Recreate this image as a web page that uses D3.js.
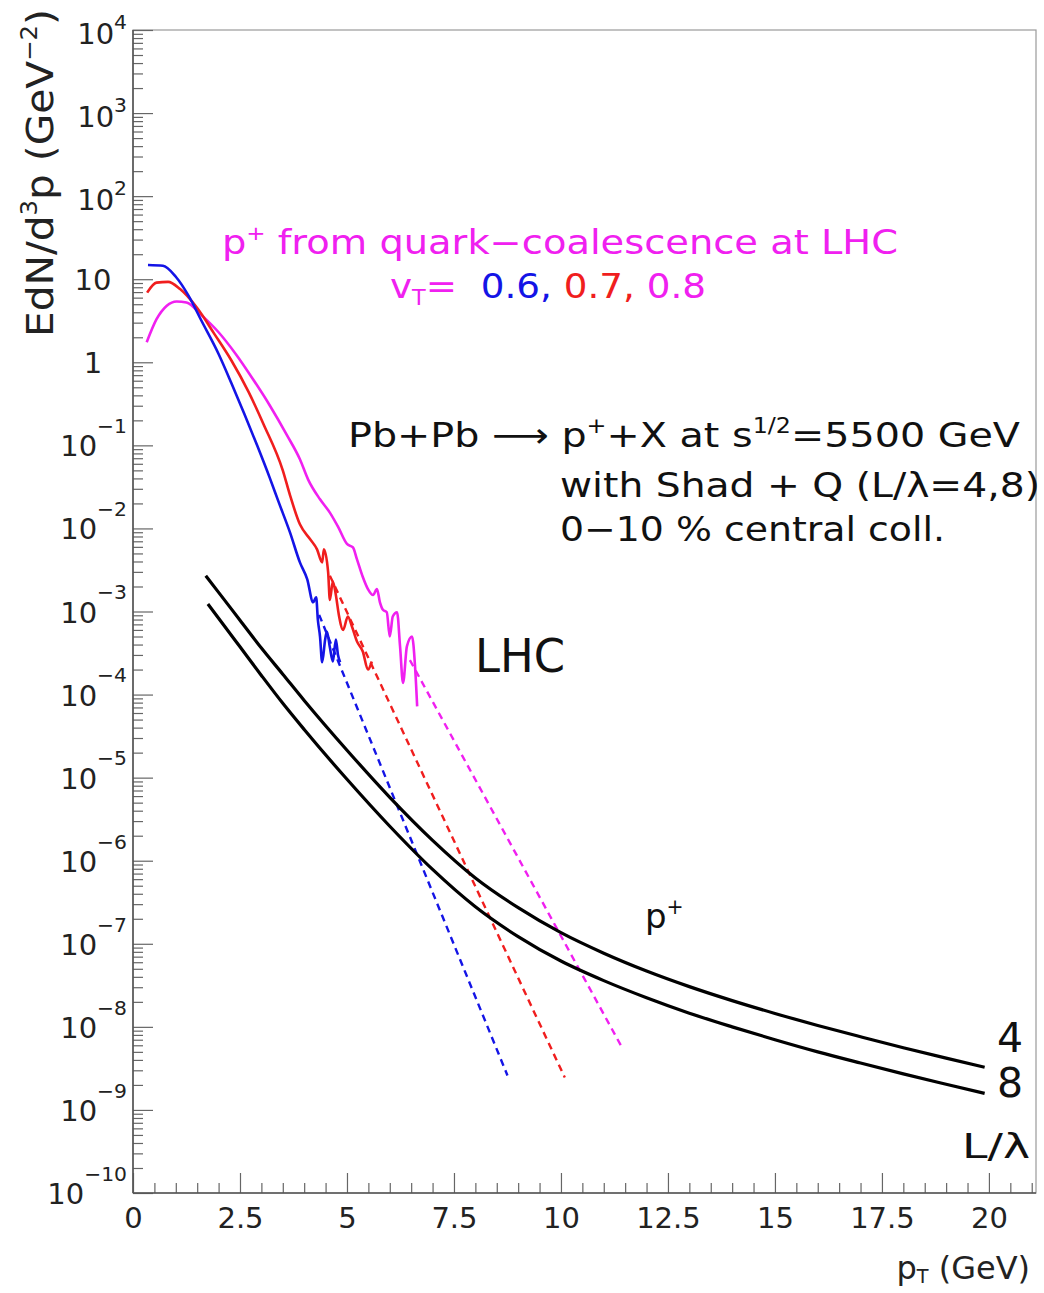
<!DOCTYPE html>
<html>
<head>
<meta charset="utf-8">
<script src="https://cdn.jsdelivr.net/npm/d3@7"></script>
<style>
  body { margin: 0; background: #fff; }
  text { font-family: "DejaVu Sans", sans-serif; white-space: pre; }
</style>
</head>
<body>
<svg id="chart" width="1044" height="1293"></svg>
<script>
// ---- data (pT in GeV, EdN/d3p in GeV^-2) ----
const xMajorTicks = [0, 2.5, 5, 7.5, 10, 12.5, 15, 17.5, 20];
const yExponents = [-10, -9, -8, -7, -6, -5, -4, -3, -2, -1, 0, 1, 2, 3, 4];

// quark coalescence, vT = 0.6 (blue)
const v06Pt  = [0.35,0.7,1.0,1.3,1.6,2.0,2.3,2.6,2.9,3.2,3.4,3.67,3.9,4.07,4.21,4.28,4.32,4.37,4.42,4.49,4.53,4.6,4.67,4.74,4.79,4.84];
const v06Val = [14.8,14.5,10.7,6.3,3.16,1.26,0.56,0.24,0.1,0.04,0.021,8.9e-3,3.9e-3,2.45e-3,1.29e-3,1.48e-3,7.9e-4,5.0e-4,2.45e-4,4.6e-4,5.75e-4,3.7e-4,2.5e-4,4.6e-4,3.0e-4,2.45e-4];
// vT = 0.7 (red)
const v07Pt  = [0.33,0.55,0.82,1.1,1.5,1.9,2.3,2.7,3.05,3.5,3.67,3.9,4.14,4.3,4.42,4.46,4.56,4.6,4.67,4.74,4.81,4.91,5.02,5.12,5.23,5.37,5.49,5.58];
const v07Val = [6.9,9.1,9.3,7.6,4.5,2.2,1.05,0.44,0.18,0.05,0.025,0.0112,7.4e-3,5.6e-3,3.9e-3,5.6e-3,2.95e-3,1.38e-3,2.3e-3,1.58e-3,9.1e-4,6.0e-4,8.7e-4,6.5e-4,4.4e-4,3.3e-4,2.0e-4,2.5e-4];
// vT = 0.8 (magenta)
const v08Pt  = [0.32,0.55,0.79,1.02,1.25,1.6,2.0,2.4,2.8,3.2,3.6,3.9,4.09,4.37,4.6,4.79,5.0,5.14,5.23,5.37,5.49,5.61,5.7,5.77,5.84,5.93,6.0,6.07,6.17,6.24,6.31,6.4,6.52,6.59,6.64];
const v08Val = [1.74,3.3,4.8,5.4,5.25,3.7,2.3,1.26,0.63,0.30,0.132,0.068,0.039,0.0224,0.0155,0.0105,6.5e-3,5.9e-3,4.3e-3,2.6e-3,1.86e-3,1.58e-3,1.86e-3,1.29e-3,1.05e-3,9.8e-4,5.0e-4,8.7e-4,9.8e-4,3.8e-4,1.38e-4,3.8e-4,5.0e-4,2.2e-4,7.2e-5];

// exponential extrapolations (dashed)
const fit06Pt = [4.35, 8.75],  fit06Val = [9.1e-4, 2.6e-9];
const fit07Pt = [4.6, 10.09],  fit07Val = [2.7e-3, 2.45e-9];
const fit08Pt = [6.47, 11.43], fit08Val = [2.6e-4, 5.6e-9];

// fragmentation with Shad + Q, L/lambda = 4 and 8 (black)
const q4Pt  = [1.7,2,2.5,3,3.5,4,5,6,7,8,9,10,11,12,13,14,15,16,17,18,19,19.9];
const q4Val = [2.69e-3,1.7e-3,7.85e-4,3.63e-4,1.76e-4,8.5e-5,2.14e-5,5.8e-6,1.76e-6,6.2e-7,2.72e-7,1.36e-7,7.7e-8,4.7e-8,3.05e-8,2.07e-8,1.45e-8,1.04e-8,7.6e-9,5.6e-9,4.2e-9,3.27e-9];
const q8Pt  = [1.75,2,2.5,3,3.5,4,5,6,7,8,9,10,11,12,13,14,15,16,17,18,19,19.9];
const q8Val = [1.23e-3,8.3e-4,3.76e-4,1.7e-4,7.85e-5,3.8e-5,9.55e-6,2.6e-6,7.85e-7,2.79e-7,1.22e-7,6.2e-8,3.6e-8,2.24e-8,1.46e-8,1.0e-8,7.0e-9,5.0e-9,3.67e-9,2.72e-9,2.04e-9,1.58e-9];

const BLUE = "#1414e6", RED = "#f01e1e", MAG = "#f020f0";

// ---- layout ----
const mLeft = 133, mRight = 1036, mTop = 30, mBottom = 1193;
const svg = d3.select("#chart");

const x = d3.scaleLinear().domain([0, 21.1]).range([mLeft, mRight]);
const y = d3.scaleLog().domain([1e-10, 1e4]).range([mBottom, mTop]);

// frame
svg.append("rect")
    .attr("x", mLeft).attr("y", mTop)
    .attr("width", mRight - mLeft).attr("height", mBottom - mTop)
    .style("fill", "none").style("stroke", "#9a9a9a").style("stroke-width", 1.2);

// y ticks (inside)
const yMinor = [];
yExponents.slice(0, -1).forEach(function (e) {
    for (let k = 2; k <= 9; k++) yMinor.push(k * Math.pow(10, e));
});
const yMajorVals = yExponents.map(function (e) { return Math.pow(10, e); });

function styleAxis(g) {
    g.select(".domain").remove();
    g.selectAll(".tick line").style("stroke", "#666").style("stroke-width", 1.2);
}

svg.append("g").attr("transform", "translate(" + mLeft + ",0)")
    .call(d3.axisLeft(y).tickValues(yMinor).tickSize(-10).tickFormat(""))
    .call(styleAxis);
svg.append("g").attr("transform", "translate(" + mLeft + ",0)")
    .call(d3.axisLeft(y).tickValues(yMajorVals).tickSize(-20).tickFormat(""))
    .call(styleAxis);

// x ticks (inside)
const xMinor = d3.range(0, 21.01, 0.5).filter(function (v) { return Math.abs(v / 2.5 - Math.round(v / 2.5)) > 1e-6; });
svg.append("g").attr("transform", "translate(0," + mBottom + ")")
    .call(d3.axisBottom(x).tickValues(xMinor).tickSize(-10).tickFormat(""))
    .call(styleAxis);
const xAx = svg.append("g").attr("transform", "translate(0," + mBottom + ")")
    .call(d3.axisBottom(x).tickValues(xMajorTicks).tickSize(-20).tickFormat(function (d) { return String(d); }))
    .call(styleAxis);
xAx.selectAll(".tick text")
    .attr("y", 35).attr("dy", 0)
    .style("font-family", "DejaVu Sans").style("font-size", "29px").style("fill", "#222");

// axis lines
svg.append("line").attr("x1", mLeft).attr("x2", mLeft).attr("y1", mTop).attr("y2", mBottom)
    .style("stroke", "#555").style("stroke-width", 1.6);
svg.append("line").attr("x1", mLeft).attr("x2", mRight).attr("y1", mBottom).attr("y2", mBottom)
    .style("stroke", "#555").style("stroke-width", 1.6);

// rich text helper with super/subscripts
function rich(px, py, parts, o) {
    const t = svg.append("text")
        .attr("x", px).attr("y", py)
        .attr("font-size", o.size)
        .attr("fill", o.fill || "#111")
        .attr("text-anchor", o.anchor || "start");
    if (o.len) t.attr("textLength", o.len).attr("lengthAdjust", "spacingAndGlyphs");
    if (o.rotate) t.attr("transform", "rotate(" + o.rotate + "," + px + "," + py + ")");
    const supShift = o.supShift || 0.42;
    const supScale = o.supScale || 0.6;
    const subShift = o.subShift || 0.22;
    let shift = 0;
    parts.forEach(function (p) {
        const want = p.sup ? -supShift * o.size : (p.sub ? subShift * o.size : 0);
        const ts = t.append("tspan").attr("dy", want - shift).text(p.t);
        if (p.sup || p.sub) ts.attr("font-size", o.size * supScale);
        if (p.fill) ts.attr("fill", p.fill);
        shift = want;
    });
    return t;
}

// y tick labels
yExponents.forEach(function (e) {
    const ty = y(Math.pow(10, e));
    if (e === 0 || e === 1) {
        rich(mLeft - 40, ty + 11, [{ t: e === 0 ? "1" : "10" }],
            { size: 29, anchor: "middle", fill: "#222" });
    } else {
        const neg = e < 0;
        rich(mLeft - 6, ty + (neg ? 11 : 14),
            [{ t: "10" }, { t: (neg ? "\u2212" : "") + Math.abs(e), sup: true }],
            { size: 29, anchor: "end", fill: "#222", supScale: 0.7, supShift: neg ? 0.8 : 0.52 });
    }
});

// axis titles
rich(53, 9, [{ t: "EdN/d" }, { t: "3", sup: true }, { t: "p (GeV" }, { t: "\u22122", sup: true }, { t: ")" }],
    { size: 38, anchor: "end", rotate: -90, len: 328, fill: "#222" });
rich(1030, 1279, [{ t: "p" }, { t: "T", sub: true }, { t: " (GeV)" }],
    { size: 32, anchor: "end", fill: "#222", subShift: 0.14 });

// curves
const line = d3.line()
    .curve(d3.curveMonotoneX)
    .x(function (d) { return x(d[0]); })
    .y(function (d) { return y(d[1]); });

function draw(pts, vals, color, width, dash) {
    const data = d3.zip(pts, vals);
    const p = svg.append("path").datum(data)
        .attr("d", line)
        .style("fill", "none")
        .style("stroke", color)
        .style("stroke-width", width)
        .style("stroke-linejoin", "round");
    if (dash) p.style("stroke-dasharray", dash);
}

draw(fit06Pt, fit06Val, BLUE, 2.4, "7,5");
draw(fit07Pt, fit07Val, RED, 2.4, "7,5");
draw(fit08Pt, fit08Val, MAG, 2.4, "7,5");
draw(v08Pt, v08Val, MAG, 2.6);
draw(v07Pt, v07Val, RED, 2.6);
draw(v06Pt, v06Val, BLUE, 2.6);
draw(q4Pt, q4Val, "#000", 3.2);
draw(q8Pt, q8Val, "#000", 3.2);

// annotations
rich(222, 254, [{ t: "p" }, { t: "+", sup: true }, { t: " from quark\u2212coalescence at LHC" }],
    { size: 33, fill: MAG, len: 676 });
rich(390, 298, [{ t: "v", fill: MAG }, { t: "T", sub: true, fill: MAG }, { t: "=  ", fill: MAG },
    { t: "0.6,", fill: BLUE }, { t: " 0.7,", fill: RED }, { t: " 0.8", fill: MAG }],
    { size: 34, len: 316 });
rich(348, 447, [{ t: "Pb+Pb \u27F6 p" }, { t: "+", sup: true }, { t: "+X at s" }, { t: "1/2", sup: true }, { t: "=5500 GeV" }],
    { size: 34, len: 672 });
rich(560, 497, [{ t: "with Shad + Q (L/\u03BB=4,8)" }], { size: 34, len: 480 });
rich(560, 541, [{ t: "0\u221210 % central coll." }], { size: 34, len: 385 });
rich(475, 672, [{ t: "LHC" }], { size: 46, len: 90 });
rich(645, 928, [{ t: "p" }, { t: "+", sup: true }], { size: 34 });
rich(1010, 1052, [{ t: "4" }], { size: 41, anchor: "middle" });
rich(1010, 1097, [{ t: "8" }], { size: 41, anchor: "middle" });
rich(962, 1158, [{ t: "L/\u03BB" }], { size: 34, len: 68 });
</script>
</body>
</html>
